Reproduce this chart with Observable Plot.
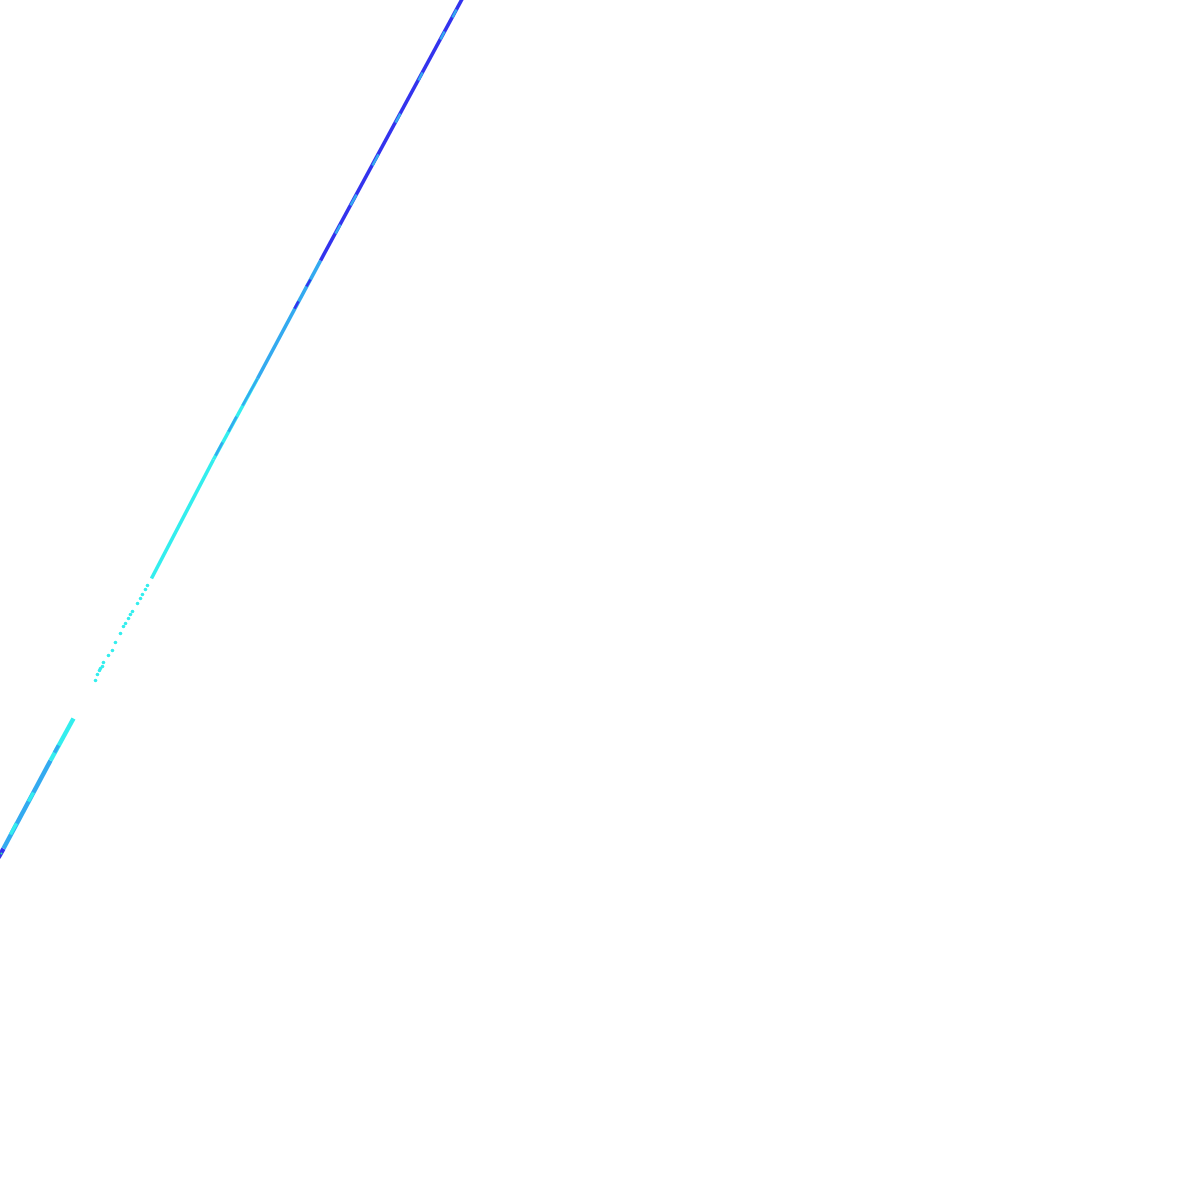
<!DOCTYPE html>
<html>
<head>
<meta charset="utf-8">
<script src="https://cdn.jsdelivr.net/npm/d3@7"></script>
<script src="https://cdn.jsdelivr.net/npm/@observablehq/plot@0.6"></script>
<style>
  html, body { margin: 0; padding: 0; background: #fff; }
</style>
</head>
<body>
<div id="chart"></div>
<script>
// Groups and their colours
const groups = ["low", "mid", "high", "edge"];
const groupColors = ["#33eeee", "#33aaf0", "#3333ee", "#33ee99"];

// Dense runs along the trend (start/end values), lower stretch
const lowerRuns = [
  {x1: -0.17, y1: 28.58, x2: 0.25, y2: 29.33, g: "high"},
  {x1: 0.25, y1: 29.33, x2: 4.17, y2: 36.67, g: "mid"},
  {x1: 4.17, y1: 36.67, x2: 6.08, y2: 40.17, g: "low"}
];
// Overlaid flecks in the lower stretch
const lowerFlecks = [
  {x1: 0.83, y1: 30.5, x2: 1.33, y2: 31.42, g: "low"},
  {x1: 2.33, y1: 33.25, x2: 2.75, y2: 34.0, g: "low"},
  {x1: 4.5, y1: 37.33, x2: 4.83, y2: 37.92, g: "mid"}
];
// Dense runs, upper stretch
const upperRuns = [
  {x1: 12.58, y1: 51.83, x2: 17.75, y2: 61.75, g: "low"},
  {x1: 17.75, y1: 61.75, x2: 21.42, y2: 68.5, g: "low"},
  {x1: 21.42, y1: 68.5, x2: 26.67, y2: 78.33, g: "mid"},
  {x1: 26.67, y1: 78.33, x2: 38.67, y2: 100.5, g: "high"}
];
// Overlaid flecks, upper stretch
const upperFlecks = [
  {x1: 17.92, y1: 62.08, x2: 18.5, y2: 63.17, g: "mid"},
  {x1: 19.0, y1: 64.08, x2: 19.67, y2: 65.33, g: "mid"},
  {x1: 20.17, y1: 66.25, x2: 21.42, y2: 68.5, g: "mid"},
  {x1: 24.5, y1: 74.33, x2: 24.83, y2: 74.92, g: "high"},
  {x1: 25.5, y1: 76.17, x2: 25.83, y2: 76.75, g: "high"},
  {x1: 27.92, y1: 80.58, x2: 28.33, y2: 81.33, g: "mid"},
  {x1: 29.17, y1: 82.92, x2: 29.67, y2: 83.83, g: "mid"},
  {x1: 31.0, y1: 86.25, x2: 31.5, y2: 87.17, g: "mid"},
  {x1: 32.92, y1: 89.83, x2: 33.33, y2: 90.58, g: "mid"},
  {x1: 34.83, y1: 93.33, x2: 35.17, y2: 94.0, g: "mid"},
  {x1: 36.67, y1: 96.75, x2: 37.0, y2: 97.42, g: "mid"},
  {x1: 37.67, y1: 98.58, x2: 38.0, y2: 99.25, g: "mid"}
];
// Sparse points in the thin stretch
const sparseX = [6.0, 7.92, 8.08, 8.25, 8.33, 8.5, 8.58, 9.0, 9.33, 9.58, 10.0, 10.25, 10.42, 10.67, 10.83, 11.0, 11.42, 11.67, 11.83, 12.08, 12.25];
const sparseY = [40.0, 43.33, 43.83, 44.17, 44.33, 44.5, 44.83, 45.42, 45.83, 46.5, 47.25, 47.83, 48.08, 48.5, 48.83, 49.08, 49.75, 50.17, 50.5, 50.92, 51.25];
const sparse = sparseX.map((x, i) => ({x, y: sparseY[i], g: "low"}));
const edgePoint = [{x: 0.08, y: 28.92, g: "edge"}];

const linkOpts = (w) => ({x1: "x1", y1: "y1", x2: "x2", y2: "y2", stroke: "g", strokeWidth: w, strokeLinecap: "butt"});

const chart = Plot.plot({
  width: 1200,
  height: 1200,
  margin: 0,
  x: {domain: [0, 100], axis: null},
  y: {domain: [0, 100], axis: null},
  color: {domain: groups, range: groupColors},
  marks: [
    Plot.link(lowerRuns, linkOpts(4.5)),
    Plot.link(lowerFlecks, linkOpts(3.5)),
    Plot.dot(sparse, {x: "x", y: "y", fill: "g", r: 1.8}),
    Plot.link(upperRuns, linkOpts(3.6)),
    Plot.link(upperFlecks, linkOpts(2.5)),
    Plot.dot(edgePoint, {x: "x", y: "y", fill: "g", r: 1})
  ]
});
document.getElementById("chart").appendChild(chart);
</script>
</body>
</html>
